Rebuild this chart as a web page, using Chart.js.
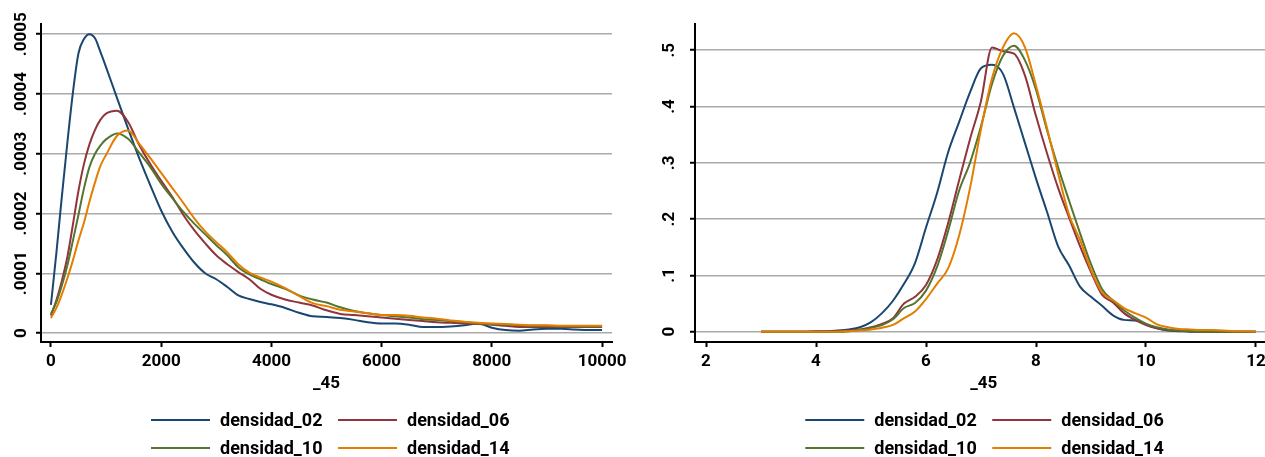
<!DOCTYPE html>
<html>
<head>
<meta charset="utf-8">
<script src="https://cdn.jsdelivr.net/npm/chart.js@4.4.1/dist/chart.umd.min.js"></script>
<style>
  html, body { margin: 0; padding: 0; background: #fff; overflow: hidden; }
  .panel { position: absolute; top: 0; height: 457px; }
</style>
</head>
<body>
<div class="panel" style="left:0;width:640px"><canvas id="left"></canvas></div>
<div class="panel" style="left:640px;width:660px"><canvas id="right"></canvas></div>
<script>
// series names and colours (Stata s2color)
const names = ['densidad_02', 'densidad_06', 'densidad_10', 'densidad_14'];
const colors = ['#1a476f', '#90353b', '#55752f', '#e37e00'];

// left panel: density of _45 in levels
const xLeftTicks = [0, 2000, 4000, 6000, 8000, 10000];
const yLeftTicks = [0, 0.0001, 0.0002, 0.0003, 0.0004, 0.0005];
const xLeft = [0, 100, 200, 300, 400, 500, 600, 700, 800, 900, 1000,
  1200, 1400, 1600, 1800, 2000, 2200, 2400, 2600, 2800, 3000, 3200, 3400, 3600, 3800, 4000,
  4250, 4500, 4750, 5000, 5250, 5500, 5750, 6000, 6250, 6500, 6750, 7000, 7250, 7500, 7750,
  8000, 8250, 8500, 8750, 9000, 9250, 9500, 9750, 10000];
const left02 = [.000047, .000135, .000230, .000320, .000403, .000468, .000492, .000500, .000493, .000470, .000445,
  .000393, .000342, .000293, .000248, .000205, .000170, .000142, .000118, .000100, .000090, .000077, .000063, .000057, .000052, .000048,
  .000042, .000034, .000028, .000027, .000025, .000022, .000018, .000016, .000016, .000014, .000010, .000010, .000011, .000013, .000016,
  .000009, .000005, .000004, .000006, .000007, .000007, .000006, .000005, .000005];
const left06 = [.000029, .000055, .000088, .000128, .000182, .000238, .000283, .000316, .000340, .000357, .000367,
  .000372, .000353, .000315, .000283, .000255, .000228, .000198, .000172, .000150, .000130, .000115, .000102, .000090, .000074, .000064,
  .000056, .000051, .000046, .000038, .000032, .000030, .000028, .000026, .000024, .000022, .000020, .000018, .000017, .000016, .000015,
  .000014, .000012, .000010, .000010, .000010, .000010, .000010, .000010, .000010];
const left10 = [.000032, .000052, .000080, .000114, .000155, .000198, .000242, .000278, .000300, .000314, .000324,
  .000334, .000325, .000302, .000278, .000250, .000226, .000203, .000183, .000165, .000147, .000130, .000110, .000098, .000090, .000082,
  .000074, .000063, .000056, .000051, .000043, .000037, .000033, .000030, .000028, .000026, .000023, .000022, .000020, .000018, .000016,
  .000015, .000014, .000013, .000012, .000012, .000011, .000011, .000011, .000011];
const left14 = [.000025, .000042, .000065, .000092, .000122, .000155, .000185, .000220, .000252, .000280, .000298,
  .000330, .000339, .000317, .000293, .000268, .000243, .000218, .000192, .000170, .000152, .000135, .000115, .000101, .000093, .000086,
  .000075, .000062, .000050, .000045, .000039, .000036, .000033, .000030, .000030, .000029, .000026, .000024, .000021, .000019, .000017,
  .000016, .000015, .000014, .000013, .000013, .000012, .000012, .000012, .000012];

// right panel: density of _45 in logs
const xRightTicks = [2, 4, 6, 8, 10, 12];
const yRightTicks = [0, 0.1, 0.2, 0.3, 0.4, 0.5];
const xRight = [3, 3.2, 3.4, 3.6, 3.8, 4, 4.2, 4.4, 4.6, 4.8, 5, 5.2, 5.4, 5.6, 5.8, 6, 6.2, 6.4, 6.6, 6.8,
  7, 7.2, 7.4, 7.6, 7.8, 8, 8.2, 8.4, 8.6, 8.8, 9, 9.2, 9.4, 9.6, 9.8, 10, 10.2, 10.4, 10.6, 10.8,
  11, 11.2, 11.4, 11.6, 11.8, 12];
const right02 = [0, 0, 0, 0, 0, .001, .001, .002, .004, .008, .017, .033, .055, .085, .122, .185, .246, .318, .372, .425,
  .468, .474, .458, .398, .335, .272, .213, .152, .118, .080, .062, .046, .029, .021, .020, .014, .006, .002, .001, 0,
  0, 0, 0, 0, 0, 0];
const right06 = [0, 0, 0, 0, 0, 0, 0, .001, .002, .004, .008, .014, .024, .050, .062, .083, .127, .192, .268, .342,
  .410, .505, .498, .494, .455, .383, .317, .256, .203, .152, .106, .066, .052, .033, .021, .012, .006, .003, .002, .001,
  0, 0, 0, 0, 0, 0];
const right10 = [0, 0, 0, 0, 0, 0, 0, 0, .001, .003, .007, .012, .022, .042, .051, .073, .115, .178, .250, .300,
  .365, .440, .490, .508, .482, .430, .358, .293, .233, .175, .120, .076, .055, .038, .025, .014, .008, .004, .002, .001,
  0, 0, 0, 0, 0, 0];
const right14 = [0, 0, 0, 0, 0, 0, 0, 0, .001, .002, .004, .007, .012, .024, .036, .058, .085, .112, .170, .255,
  .360, .450, .505, .530, .505, .437, .362, .282, .208, .163, .110, .070, .056, .042, .033, .025, .013, .008, .005, .004,
  .003, .003, .002, .001, .001, 0];

const FONT = "Roboto, 'Liberation Sans', sans-serif";
const TICK_SIZE = 17;
const LEGEND_SIZE = 18;
Chart.defaults.font.family = FONT;
Chart.defaults.color = '#000';

function widest(labels) {
  const c = document.createElement('canvas').getContext('2d');
  c.font = 'bold ' + TICK_SIZE + 'px ' + FONT;
  return Math.max(...labels.map(l => c.measureText(l).width));
}

// legend laid out as 2 x 2 below the axis title
const gridLegend = {
  id: 'gridLegend',
  afterDraw(chart, args, o) {
    const {ctx, chartArea} = chart;
    const cx = (chartArea.left + chartArea.right) / 2;
    ctx.save();
    ctx.font = 'bold ' + LEGEND_SIZE + 'px ' + FONT;
    ctx.textBaseline = 'middle';
    ctx.fillStyle = '#000';
    chart.data.datasets.forEach((ds, i) => {
      const x = cx + o.startX + (i % 2) * o.colStep;
      const y = chartArea.bottom + o.rowY + Math.floor(i / 2) * o.rowStep;
      ctx.strokeStyle = ds.borderColor;
      ctx.lineWidth = 2;
      ctx.beginPath();
      ctx.moveTo(x, y);
      ctx.lineTo(x + o.lineLen, y);
      ctx.stroke();
      ctx.fillText(ds.label, x + o.textGap, y + 1);
    });
    ctx.restore();
  }
};

function makeChart(id, xs, series, p) {
  const tickFont = {size: TICK_SIZE, weight: 'bold'};
  const yPad = p.labelDist - 5 - widest(p.yTicks.map(p.fmt)) / 2;
  return new Chart(document.getElementById(id), {
    type: 'line',
    data: {
      datasets: series.map((s, i) => ({
        label: names[i],
        data: xs.map((x, j) => ({x: x, y: s[j]})),
        borderColor: colors[i],
        backgroundColor: colors[i],
        borderWidth: 2,
        pointRadius: 0,
        cubicInterpolationMode: 'monotone',
        fill: false,
        order: 4 - i
      }))
    },
    options: {
      responsive: true,
      maintainAspectRatio: false,
      animation: false,
      layout: {padding: {top: 24, right: p.padRight, bottom: 63, left: 0}},
      plugins: {
        legend: {display: false},
        tooltip: {enabled: false},
        gridLegend: {startX: p.legendX, colStep: 187, rowY: 78, rowStep: 28, lineLen: 59, textGap: 69}
      },
      scales: {
        x: {
          type: 'linear',
          min: p.xMin,
          max: p.xMax,
          border: {color: '#000', width: 2},
          grid: {drawOnChartArea: false, tickLength: 5, tickColor: '#000', tickWidth: 2},
          ticks: {padding: 5, maxRotation: 0, autoSkip: false, color: '#000', font: tickFont, callback: v => String(v)},
          afterBuildTicks: s => { s.ticks = p.xTicks.map(v => ({value: v})); },
          title: {display: true, text: '_45', color: '#000', font: tickFont, padding: 0},
          afterFit: s => { s.height = 52; }
        },
        y: {
          type: 'linear',
          min: p.yMin,
          max: p.yMax,
          border: {color: '#000', width: 2},
          grid: {color: '#aaaaaa', lineWidth: 1.5, tickLength: 5, tickColor: '#000', tickWidth: 2},
          ticks: {
            autoSkip: false, minRotation: 90, maxRotation: 90, crossAlign: 'center', padding: yPad,
            color: '#000', font: tickFont,
            callback: v => p.fmt(v)
          },
          afterBuildTicks: s => { s.ticks = p.yTicks.map(v => ({value: v})); },
          afterFit: s => { s.width = p.yWidth; }
        }
      }
    },
    plugins: [gridLegend]
  });
}

makeChart('left', xLeft, [left02, left06, left10, left14], {
  xMin: -180, xMax: 10180, xTicks: xLeftTicks,
  yMin: -0.000015, yMax: 0.000517, yTicks: yLeftTicks,
  fmt: v => v === 0 ? '0' : v.toFixed(4).replace(/^0/, ''),
  yWidth: 41, labelDist: 19.5, padRight: 28, legendX: -175.5
});

makeChart('right', xRight, [right02, right06, right10, right14], {
  xMin: 1.8, xMax: 12.3, xTicks: xRightTicks,
  yMin: -0.0183, yMax: 0.5466, yTicks: yRightTicks,
  fmt: v => v === 0 ? '0' : v.toFixed(1).replace(/^0/, ''),
  yWidth: 55, labelDist: 25, padRight: 27.5, legendX: -178.5
});
</script>
</body>
</html>
